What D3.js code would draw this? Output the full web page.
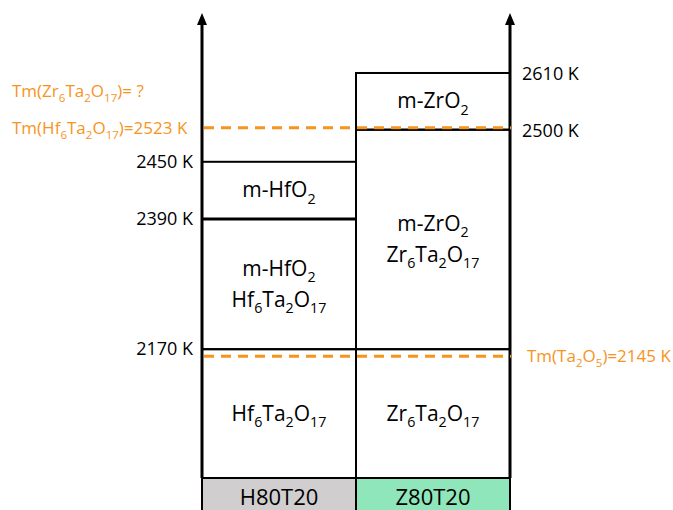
<!DOCTYPE html>
<html>
<head>
<meta charset="utf-8">
<script src="https://cdn.jsdelivr.net/npm/d3@7"></script>
<style>
  body { margin: 0; background: #fff; }
  text { font-family: "Open Sans", "Liberation Sans", sans-serif; }
</style>
</head>
<body>
<div id="chart"></div>
<script>
// samples (columns)
var samples = ["H80T20", "Z80T20"]
var sampleFill = ["#d0cece", "#8fe6ba"]

// temperature levels (K) used on the schematic axis, bottom -> top
var levels = [2000, 2145, 2170, 2390, 2450, 2500, 2523, 2610]
// schematic (non linear) position of every level, share of plot height from the bottom
var levelPos = [0, 0.262, 0.277, 0.557, 0.680, 0.749, 0.753, 0.871]

// phase fields: sample, from T, to T, label lines
var phases = [
  {s: "H80T20", lo: 2000, hi: 2170, lines: ["Hf_6Ta_2O_17"]},
  {s: "H80T20", lo: 2170, hi: 2390, lines: ["m-HfO_2", "Hf_6Ta_2O_17"]},
  {s: "H80T20", lo: 2390, hi: 2450, lines: ["m-HfO_2"]},
  {s: "Z80T20", lo: 2000, hi: 2170, lines: ["Zr_6Ta_2O_17"]},
  {s: "Z80T20", lo: 2170, hi: 2500, lines: ["m-ZrO_2", "Zr_6Ta_2O_17"]},
  {s: "Z80T20", lo: 2500, hi: 2610, lines: ["m-ZrO_2"]}
]

// axis tick labels
var leftTicks = [2450, 2390, 2170]
var rightTicks = [2610, 2500]

// melting points (dashed orange)
var meltLines = [
  {t: 2523, side: "left", label: "Tm(Hf_6Ta_2O_17)=2523 K"},
  {t: 2145, side: "right", label: "Tm(Ta_2O_5)=2145 K"}
]
var meltUnknown = {t: 2580, label: "Tm(Zr_6Ta_2O_17)= ?"}

var W = 673, H = 510
var margin = {left: 202, right: 163}
var plotTop = 13, plotBottom = 478

var svg = d3.select("#chart").append("svg")
  .attr("width", W).attr("height", H)

var x = d3.scaleBand().domain(samples)
  .range([margin.left, W - margin.right]).padding(0)

// piecewise scale: schematic temperature axis
var y = d3.scaleLinear()
  .domain(levels)
  .range(levelPos.map(function(p){ return plotBottom - p * (plotBottom - plotTop) }))

var orange = "#f7941d"

// write chemical formula with subscripts ("_" marks a subscript)
function formula(sel, str, size){
  var parts = str.split(/(_\d+)/).filter(function(p){ return p.length })
  var sub = false
  parts.forEach(function(p){
    if (p[0] === "_"){
      sel.append("tspan").attr("dy", size * 0.3).style("font-size", (size * 0.68) + "px").text(p.slice(1))
      sub = true
    } else {
      var t = sel.append("tspan").style("font-size", size + "px").text(p)
      if (sub){ t.attr("dy", -size * 0.3); sub = false }
    }
  })
}

// bottom sample boxes
svg.selectAll(".sample")
  .data(samples)
  .enter().append("rect")
  .attr("x", function(d){ return x(d) })
  .attr("y", plotBottom)
  .attr("width", x.bandwidth())
  .attr("height", H - plotBottom + 5)
  .attr("fill", function(d, i){ return sampleFill[i] })
  .attr("stroke", "#000").attr("stroke-width", 2)

svg.selectAll(".sampleLabel")
  .data(samples)
  .enter().append("text")
  .attr("x", function(d){ return x(d) + x.bandwidth() / 2 })
  .attr("y", 505)
  .attr("text-anchor", "middle")
  .style("font-size", "22px")
  .text(function(d){ return d })

// phase boxes
svg.selectAll(".phase")
  .data(phases)
  .enter().append("rect")
  .attr("x", function(d){ return x(d.s) })
  .attr("y", function(d){ return y(d.hi) })
  .attr("width", x.bandwidth())
  .attr("height", function(d){ return y(d.lo) - y(d.hi) })
  .attr("fill", "none")
  .attr("stroke", "#000").attr("stroke-width", 2)

// thicker border at 2390 K
svg.append("line")
  .attr("x1", x("H80T20")).attr("x2", x("H80T20") + x.bandwidth())
  .attr("y1", y(2390)).attr("y2", y(2390))
  .attr("stroke", "#000").attr("stroke-width", 3)

// phase labels
phases.forEach(function(d){
  var cy = (y(d.lo) + y(d.hi)) / 2
  var lh = 31
  d.lines.forEach(function(l, i){
    var t = svg.append("text")
      .attr("x", x(d.s) + x.bandwidth() / 2)
      .attr("y", cy + 7 + (i - (d.lines.length - 1) / 2) * lh)
      .attr("text-anchor", "middle")
    formula(t, l, 21)
  })
})

// axes with arrow heads
var axisX = [x.range()[0], x.range()[1]]
svg.selectAll(".axis")
  .data(axisX)
  .enter().append("line")
  .attr("x1", function(d){ return d }).attr("x2", function(d){ return d })
  .attr("y1", plotBottom).attr("y2", plotTop + 10)
  .attr("stroke", "#000").attr("stroke-width", 3)

svg.selectAll(".arrow")
  .data(axisX)
  .enter().append("path")
  .attr("d", function(d){
    return "M" + d + "," + plotTop + "L" + (d - 5) + "," + (plotTop + 12) + "L" + (d + 5) + "," + (plotTop + 12) + "Z"
  })
  .attr("fill", "#000")

// tick labels
svg.selectAll(".ltick")
  .data(leftTicks)
  .enter().append("text")
  .attr("x", axisX[0] - 9)
  .attr("y", function(d){ return y(d) + 6 })
  .attr("text-anchor", "end")
  .style("font-size", "18px")
  .text(function(d){ return d + " K" })

svg.selectAll(".rtick")
  .data(rightTicks)
  .enter().append("text")
  .attr("x", axisX[1] + 12)
  .attr("y", function(d){ return y(d) + 7 })
  .style("font-size", "18px")
  .text(function(d){ return d + " K" })

// melting point lines
svg.selectAll(".melt")
  .data(meltLines)
  .enter().append("line")
  .attr("x1", axisX[0] + 2).attr("x2", axisX[1] + 1)
  .attr("y1", function(d){ return y(d.t) }).attr("y2", function(d){ return y(d.t) })
  .attr("stroke", orange).attr("stroke-width", 3)
  .attr("stroke-dasharray", "10,7")

meltLines.forEach(function(d){
  var t = svg.append("text")
    .attr("x", d.side === "left" ? 12 : axisX[1] + 17)
    .attr("y", y(d.t) + 6)
    .attr("fill", orange)
  formula(t, d.label, 17)
})

var tq = svg.append("text")
  .attr("x", 12)
  .attr("y", y(meltUnknown.t) + 5)
  .attr("fill", orange)
formula(tq, meltUnknown.label, 17)
</script>
</body>
</html>
